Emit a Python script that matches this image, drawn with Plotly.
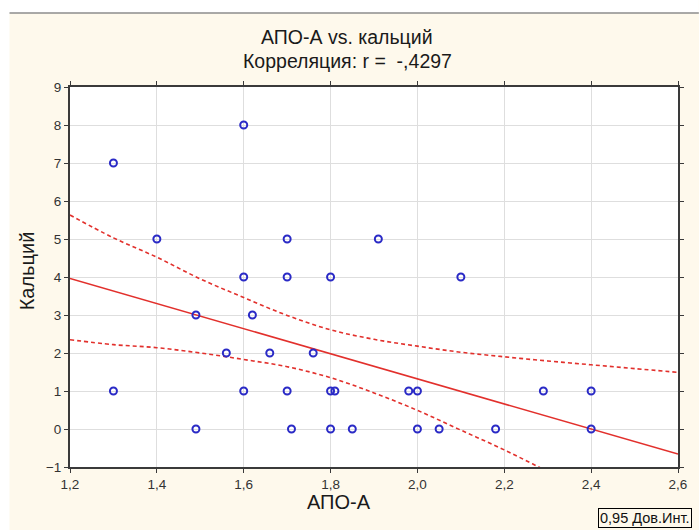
import plotly.graph_objects as go

# ---- data ----
apo_a = [1.30, 1.30, 1.40, 1.49, 1.49, 1.56, 1.60, 1.60, 1.60, 1.62, 1.66,
         1.70, 1.70, 1.70, 1.71, 1.76, 1.80, 1.80, 1.80, 1.81, 1.85, 1.91,
         1.98, 2.00, 2.00, 2.05, 2.10, 2.18, 2.29, 2.40, 2.40]
calcium = [7, 1, 5, 3, 0, 2, 8, 4, 1, 3, 2,
           5, 4, 1, 0, 2, 4, 1, 0, 1, 0, 5,
           1, 1, 0, 0, 4, 0, 1, 1, 0]

reg_x = [1.2, 2.6]
reg_y = [3.96, -0.66]

band_x = [1.2, 1.3, 1.4, 1.5, 1.6, 1.7, 1.8, 1.9, 2.0, 2.1, 2.2, 2.3, 2.4, 2.5, 2.6]
band_upper = [5.63, 5.03, 4.52, 3.95, 3.46, 2.99, 2.61, 2.36, 2.18, 2.02, 1.90, 1.79, 1.69, 1.59, 1.49]
band_lower = [2.35, 2.22, 2.14, 2.00, 1.83, 1.64, 1.35, 0.95, 0.49, -0.03, -0.55, -1.12, -1.69, -2.26, -2.83]

x_ticks = [1.2, 1.4, 1.6, 1.8, 2.0, 2.2, 2.4, 2.6]
y_ticks = [-1, 0, 1, 2, 3, 4, 5, 6, 7, 8, 9]

title_1 = "АПО-А vs. кальций"
title_2 = "Корреляция: r =  -,4297"
x_title = "АПО-А"
y_title = "Кальций"
legend_text = "0,95 Дов.Инт."

# ---- layout geometry (pixels) ----
W, H = 699, 530
L, R, T, B = 70, 16, 87, 63
PW, PH = W - L - R, H - T - B


def px(x):
    return (x - L) / PW


def py(y):
    return (H - B - y) / PH


RED = "#E2302C"
BLUE = "#2A2AC6"
CREAM = "#FEF9EC"
FONT = "Liberation Sans, Arial, sans-serif"

fig = go.Figure()

fig.add_trace(go.Scatter(x=band_x, y=band_upper, mode="lines", line_shape="spline",
                         line=dict(color=RED, width=1.6, dash="4px,3px"),
                         hoverinfo="skip", showlegend=False))
fig.add_trace(go.Scatter(x=band_x, y=band_lower, mode="lines", line_shape="spline",
                         line=dict(color=RED, width=1.6, dash="4px,3px"),
                         hoverinfo="skip", showlegend=False))
fig.add_trace(go.Scatter(x=reg_x, y=reg_y, mode="lines",
                         line=dict(color=RED, width=1.6),
                         showlegend=False))
fig.add_trace(go.Scatter(x=apo_a, y=calcium, mode="markers",
                         marker=dict(symbol="circle-open", size=7,
                                     color=BLUE, line=dict(width=2, color=BLUE)),
                         showlegend=False))

axis_common = dict(
    showline=True, linecolor="#3a3a3a", linewidth=2, mirror="ticks",
    ticks="outside", ticklen=4, tickcolor="#3a3a3a", tickwidth=1,
    showgrid=True, gridcolor="#DEDEDE", gridwidth=1, zeroline=False,
    tickfont=dict(family=FONT, size=13.5, color="#333333"),
)

fig.update_xaxes(range=[1.2, 2.6], tickvals=x_ticks, tickformat=".1f", **axis_common)
fig.update_yaxes(range=[-1, 9], tickvals=y_ticks, tickformat="d", **axis_common)

annotations = [
    dict(text=title_1, x=px(349), y=py(37), xref="paper", yref="paper",
         showarrow=False, xanchor="center", yanchor="middle",
         font=dict(family=FONT, size=19.5, color="#1a1a1a")),
    dict(text=title_2, x=px(350), y=py(61), xref="paper", yref="paper",
         showarrow=False, xanchor="center", yanchor="middle",
         font=dict(family=FONT, size=19.5, color="#1a1a1a")),
    dict(text=x_title, x=px(341), y=py(502), xref="paper", yref="paper",
         showarrow=False, xanchor="center", yanchor="middle",
         font=dict(family=FONT, size=20, color="#1a1a1a")),
    dict(text=y_title, x=px(27), y=py(271), xref="paper", yref="paper",
         showarrow=False, xanchor="center", yanchor="middle", textangle=-90,
         font=dict(family=FONT, size=20, color="#1a1a1a")),
    dict(text=legend_text, x=px(697), y=py(528), xref="paper", yref="paper",
         showarrow=False, xanchor="right", yanchor="bottom",
         bordercolor="#000000", borderwidth=1, borderpad=1, bgcolor=CREAM,
         font=dict(family=FONT, size=14.5, color="#111111")),
]

shapes = [
    dict(type="rect", xref="paper", yref="paper", x0=px(-5), x1=px(W + 5),
         y0=py(13), y1=py(-5), fillcolor="white", line=dict(width=0), layer="above"),
    dict(type="rect", xref="paper", yref="paper", x0=px(-5), x1=px(9),
         y0=py(H + 5), y1=py(-5), fillcolor="white", line=dict(width=0), layer="above"),
    dict(type="line", xref="paper", yref="paper", x0=px(9), x1=px(W + 5),
         y0=py(13), y1=py(13), line=dict(color="#8C8C8C", width=1.5), layer="above"),
]

fig.update_layout(
    width=W, height=H,
    margin=dict(l=L, r=R, t=T, b=B, pad=0),
    paper_bgcolor=CREAM, plot_bgcolor="white",
    separators=", ",
    annotations=annotations, shapes=shapes,
    showlegend=False,
)

fig.write_html(
    "out.html",
    config={"displayModeBar": False},
    post_script="document.body.style.margin='0';document.body.style.overflow='hidden';",
)
